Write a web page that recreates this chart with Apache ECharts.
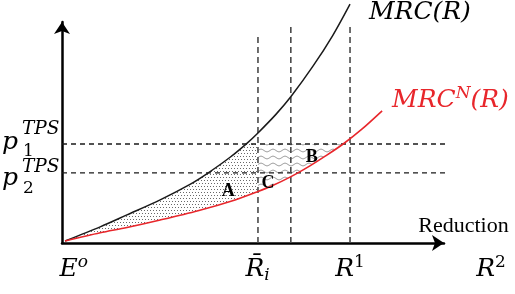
<!DOCTYPE html>
<html><head><meta charset="utf-8">
<script src="https://cdn.jsdelivr.net/npm/echarts@6/dist/echarts.min.js"></script>
<style>html,body{margin:0;padding:0;background:#fff}#c{width:515px;height:294px}</style>
</head><body><div id="c"></div>
<script>
// ---- data (x: reduction, y: marginal reduction cost), arbitrary units ----
const mrcX  = [0.8, 10, 17, 25.7, 33.5, 38, 44, 48.4, 51.3, 56, 60, 65.7, 70.9, 75.4];
const mrcY  = [0.9, 7.3, 12.7, 19.5, 26.5, 31.4, 38.8, 45.1, 49.8, 58.2, 66.4, 80.0, 94.0, 108.1];
const mrcNX = [0.8, 10, 17, 25.7, 35.6, 45.3, 51.3, 55, 59.7, 64.9, 69, 73.6, 78.5, 83.8];
const mrcNY = [0.9, 4.6, 7.0, 10.4, 14.6, 19.5, 23.3, 25.9, 29.8, 34.9, 39.4, 44.8, 51.5, 59.8];
const priceLevels = [44.8, 31.7];          // p1TPS, p2TPS
const priceEnd = 102.9;                     // right end of the price lines
const reductionMarks = [51.3, 59.9, 75.4];  // R̄i, (unlabelled), R1
const reductionTops  = [93.2, 97.7, 98.6];
const regionLabels = ['A', 'B', 'C'];

// ---- layout of the text annotations (data coords + pixel offsets) ----
const RED = '#e8262b';
const LABELS = [
  {pos:[3.1,-11.8],  parts:[{text:'{m|E}{s|o}'}]},
  {pos:[51.2,-11.8], parts:[{text:'{m|R\u0304}{b|i}'}]},
  {pos:[75.4,-11.8], parts:[{text:'{m|R}{n|1}'}]},
  {pos:[112.3,-11.8],parts:[{text:'{m|R}{n|2}'}]},
  {pos:[93.7,104.3], parts:[{text:'{m|MRC(R)}'}]},
  {pos:[101.7,64.7], parts:[{text:'{m|MRC}{s|N}{m|(R)}', color:RED}]},
  {pos:[105.1,7.7],  parts:[{text:'{t|Reduction}'}]},
  {pos:[43.5,23.5],  parts:[{text:'{k|' + regionLabels[0] + '}'}]},
  {pos:[65.4,38.9],  parts:[{text:'{k|' + regionLabels[1] + '}'}]},
  {pos:[53.9,27.1],  parts:[{text:'{k|' + regionLabels[2] + '}'}]},
  {pos:[-15.7,priceLevels[0]], parts:[
     {text:'{m|p}', align:'left', dx:0, dy:-1},
     {text:'{s2|TPS}', align:'left', dx:20, dy:-15},
     {text:'{n|1}', align:'left', dx:21, dy:7}]},
  {pos:[-15.7,priceLevels[1]], parts:[
     {text:'{m|p}', align:'left', dx:0, dy:6},
     {text:'{s2|TPS}', align:'left', dx:20, dy:-6},
     {text:'{n|2}', align:'left', dx:21, dy:15}]}
];
const RICH = {
  m:{fontFamily:'DejaVu Serif', fontStyle:'italic', fontSize:25, lineHeight:30, verticalAlign:'middle'},
  s:{fontFamily:'DejaVu Serif', fontStyle:'italic', fontSize:17, lineHeight:16, verticalAlign:'top'},
  s2:{fontFamily:'DejaVu Serif', fontStyle:'italic', fontSize:18.5, lineHeight:18},
  n:{fontFamily:'DejaVu Serif', fontSize:17, lineHeight:16, verticalAlign:'top'},
  b:{fontFamily:'DejaVu Serif', fontStyle:'italic', fontSize:17, lineHeight:16, verticalAlign:'bottom'},
  t:{fontFamily:'Liberation Serif', fontSize:22, lineHeight:24},
  k:{fontFamily:'Liberation Serif', fontWeight:'bold', fontSize:18, lineHeight:20}
};

function interp(xs, ys, x){
  if (x <= xs[0]) return ys[0];
  for (let i = 1; i < xs.length; i++) {
    if (x <= xs[i]) { const t = (x - xs[i-1]) / (xs[i] - xs[i-1]); return ys[i-1] + t * (ys[i] - ys[i-1]); }
  }
  return ys[ys.length-1];
}
function crossX(xs, ys, level){
  for (let i = 1; i < xs.length; i++) {
    if (ys[i-1] <= level && level <= ys[i]) return xs[i-1] + (level - ys[i-1]) / (ys[i] - ys[i-1]) * (xs[i] - xs[i-1]);
  }
  return xs[xs.length-1];
}
function dotPattern(){
  const c = document.createElement('canvas'); c.width = 6; c.height = 6;
  const g = c.getContext('2d'); g.fillStyle = '#6a6a6a';
  g.fillRect(0,0,1,1); g.fillRect(3,0,1,1); g.fillRect(1,3,1,1); g.fillRect(4,3,1,1);
  return c;
}
function wavePattern(){
  const c = document.createElement('canvas'); c.width = 12; c.height = 7;
  const g = c.getContext('2d'); g.strokeStyle = '#8a8a8a'; g.lineWidth = 1;
  g.beginPath();
  for (let x = 0; x <= 12; x += 0.5) { const y = 3.5 + 1.3 * Math.sin(2*Math.PI*x/12); x === 0 ? g.moveTo(x,y) : g.lineTo(x,y); }
  g.stroke();
  return c;
}
const DOTS = {image: dotPattern(), repeat: 'repeat'};
const WAVES = {image: wavePattern(), repeat: 'repeat'};

// region polygons in data space
const xBar = reductionMarks[0], p1 = priceLevels[0];
function regionPoints(k){
  const up = [], lo = [];
  let a, b, U;
  if (k === 0) { a = Math.max(mrcX[0], mrcNX[0]); b = xBar; U = x => Math.min(interp(mrcX, mrcY, x), p1); }
  else { a = xBar; b = crossX(mrcNX, mrcNY, p1); U = x => p1; }
  const n = 80;
  for (let i = 0; i <= n; i++) { const x = a + (b - a) * i / n; up.push([x, U(x)]); lo.push([x, interp(mrcNX, mrcNY, x)]); }
  return up.concat(lo.reverse());
}

const chart = echarts.init(document.getElementById('c'), null, {renderer:'canvas'});
const series = [];
series.push({
  type:'custom', coordinateSystem:'cartesian2d', clip:false, z:1, silent:true,
  data:[[0,0],[0,0]],
  renderItem:(params, api) => ({
    type:'polygon',
    shape:{points: regionPoints(params.dataIndex).map(p => api.coord(p))},
    style:{fill: params.dataIndex === 0 ? DOTS : WAVES, stroke:null}
  })
});
priceLevels.forEach(p => series.push({
  type:'line', data:[[0,p],[priceEnd,p]], symbol:'none', clip:false, z:2, silent:true,
  lineStyle:{color:'#1a1a1a', width:1.3, type:[5,4]}
}));
reductionMarks.forEach((r,i) => series.push({
  type:'line', data:[[r,0],[r,reductionTops[i]]], symbol:'none', clip:false, z:2, silent:true,
  lineStyle:{color:'#4a4a4a', width:1.6, type:[6,4]}
}));
series.push({
  type:'line', data:mrcX.map((x,i)=>[x,mrcY[i]]), smooth:0.3, symbol:'none', clip:false, z:3,
  lineStyle:{color:'#1a1a1a', width:1.5}
});
series.push({
  type:'line', data:mrcNX.map((x,i)=>[x,mrcNY[i]]), smooth:0.3, symbol:'none', clip:false, z:3,
  lineStyle:{color:RED, width:1.6}
});
series.push({
  type:'custom', coordinateSystem:'cartesian2d', clip:false, z:5, silent:true,
  data: LABELS.map(l => l.pos),
  renderItem:(params, api) => {
    const L = LABELS[params.dataIndex];
    const c = api.coord([api.value(0), api.value(1)]);
    return {
      type:'group',
      children: L.parts.map(p => ({
        type:'text', x: c[0] + (p.dx||0), y: c[1] + (p.dy||0),
        style:{text:p.text, rich:RICH, fill:p.color || '#000', align:p.align || 'center', verticalAlign:'middle'}
      }))
    };
  }
});

const axisCommon = {
  type:'value', min:0, max:100,
  axisLine:{show:true, onZero:false, symbol:['none','arrow'], symbolSize:[12,12], lineStyle:{color:'#000', width:2.5}},
  axisTick:{show:false}, axisLabel:{show:false}, splitLine:{show:false}
};
chart.setOption({
  animation:false,
  backgroundColor:'#fff',
  grid:{left:62, right:71, top:22, bottom:51},
  xAxis: axisCommon,
  yAxis: axisCommon,
  series
});
</script></body></html>
